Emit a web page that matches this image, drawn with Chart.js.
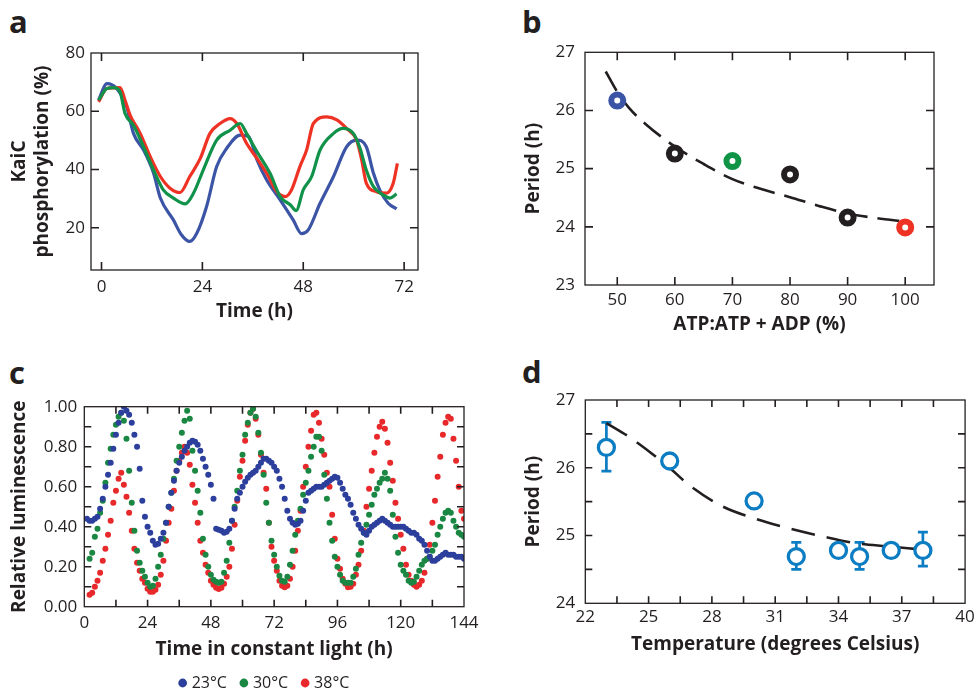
<!DOCTYPE html>
<html><head><meta charset="utf-8">
<script src="https://cdn.jsdelivr.net/npm/chart.js@4.4.1/dist/chart.umd.min.js"></script>
<style>
html,body{margin:0;padding:0;background:#fff;width:978px;height:689px;overflow:hidden;position:relative;}
canvas{position:absolute;}
.lbl{position:absolute;font-family:'Open Sans',sans-serif;font-weight:700;font-size:31px;line-height:30px;color:#231f20;}
</style></head><body>
<div class="lbl" style="left:9px;top:6px">a</div>
<div class="lbl" style="left:522px;top:6px">b</div>
<div class="lbl" style="left:9px;top:357px">c</div>
<div class="lbl" style="left:522px;top:356px">d</div>
<canvas id="ca" width="489" height="340" style="left:0;top:0"></canvas>
<canvas id="cb" width="489" height="340" style="left:489px;top:0"></canvas>
<canvas id="cc" width="489" height="341" style="left:0;top:360px"></canvas>
<canvas id="cd" width="489" height="329" style="left:489px;top:360px"></canvas>
<script>
// ---------- Panel a: KaiC phosphorylation ----------
const aXTicks = [0, 24, 48, 72];
const aYTicks = [20, 40, 60, 80];
const aBlueT = [-0.7,1.3,3.6,6,7.6,10,12.4,14,17.1,19,21,22.7,25,27.4,29.8,33,35,37,39.3,42.5,45.6,47.6,49.2,52,55.2,58.3,60.7,63,64.7,66.2,68.2,70.2];
const aBlueV = [63.8,69.5,67.8,61.5,52.4,46.7,38.7,30.2,22.7,17.6,15.3,18.2,27.3,41,47.3,51.8,51.3,43.3,36.4,29.6,22.7,18,19.3,28.4,37.6,47.8,50.1,47.8,38.7,33,28.4,26.5];
const aRedT = [-0.7,1.3,4.4,5.6,6.8,9.2,11.6,14,16.3,18.7,21,23.5,25.8,28.2,30.6,32.2,34.5,37,39.3,41.7,43.7,45.2,47.2,48.8,50.4,53.6,56,58.3,60.7,61.9,63,65.4,67.8,69.4,70.4];
const aRedV = [63.2,67.8,68.1,63.8,58.7,52.4,44.4,37.6,33.6,32.1,37.6,43.8,52.4,55.8,57.5,55.8,49,43.8,38.7,32.4,30.7,33,41,46.7,55.8,58.1,57,54.1,50.1,43.3,35.3,32.4,31.9,35.3,42.1];
const aGreenT = [-0.7,1.3,2.9,4.4,5.6,7.6,10,12.4,14.7,17.1,19.9,21.9,24.2,27.4,30.6,33,34.5,37,40.1,42.5,44.9,46.3,48,50,52,55.2,57.5,59.9,61.5,63,64.7,67,68.6,70.2];
const aGreenV = [63.8,67.8,68.1,66.7,59.2,55.2,47.8,39.8,33,30.2,28.2,31.9,39.8,50.1,53.5,55.8,52.4,46.1,38.7,30.7,27.9,25.9,33,37.6,46.7,52.4,54.1,52.4,47.3,39.8,34.1,31.3,30.2,31.6];

// ---------- Panel b: period vs ATP ----------
const bXTicks = [50, 60, 70, 80, 90, 100];
const bYTicks = [23, 24, 25, 26, 27];
const bATP = [50, 60, 70, 80, 90, 100];
const bPeriod = [26.17, 25.26, 25.13, 24.9, 24.16, 23.99];
const bColors = ['#3b54a5', '#231f20', '#0f9447', '#231f20', '#231f20', '#ee3224'];
const bFitX = [48, 50, 52, 55, 60, 65, 70, 75, 80, 85, 90, 95, 100];
const bFitY = [26.67, 26.32, 26.05, 25.76, 25.38, 25.08, 24.82, 24.65, 24.51, 24.36, 24.23, 24.15, 24.09];

// ---------- Panel c: luminescence ----------
const cXTicks = [0,12,24,36,48,60,72,84,96,108,120,132,144];
const cYTicks = [0,0.1,0.2,0.3,0.4,0.5,0.6,0.7,0.8,0.9,1.0];
const cLabels = ['23°C', '30°C', '38°C'];
const cBlueStart = 1, cGreenStart = 2, cRedStart = 2;
const cBlue = [0.44,0.43,0.43,0.44,0.45,0.49,0.54,0.60,0.66,0.72,
 0.79,0.86,0.92,0.97,1.00,0.98,0.96,0.92,0.86,0.80,
 0.69,0.53,0.45,0.40,0.37,0.33,0.31,0.315,0.34,0.37,
 0.42,0.50,0.57,0.63,0.68,0.72,0.75,0.78,0.80,0.82,
 0.83,0.825,0.81,0.78,0.74,0.70,0.66,0.61,0.54,0.39,
 0.385,0.38,0.37,0.375,0.39,0.43,0.49,0.54,0.57,0.60,
 0.625,0.645,0.66,0.67,0.68,0.70,0.72,0.74,0.74,0.73,
 0.72,0.70,0.68,0.64,0.60,0.54,0.48,0.44,0.42,0.41,
 0.415,0.43,0.48,0.53,0.57,0.58,0.59,0.60,0.60,0.60,
 0.61,0.62,0.63,0.64,0.65,0.645,0.62,0.59,0.56,0.54,
 0.51,0.47,0.44,0.41,0.39,0.37,0.36,0.38,0.40,0.41,
 0.42,0.43,0.44,0.43,0.42,0.41,0.40,0.40,0.40,0.40,
 0.40,0.39,0.38,0.37,0.37,0.36,0.34,0.33,0.31,0.28,
 0.25,0.23,0.23,0.24,0.25,0.26,0.27,0.26,0.26,0.26,
 0.25,0.25,0.25,0.24];
const cGreen = [0.24,0.27,0.35,0.39,0.47,0.53,0.62,0.72,0.79,0.86,
 0.91,0.95,0.97,0.93,0.84,0.68,0.52,0.38,0.28,0.22,
 0.18,0.15,0.12,0.10,0.105,0.14,0.20,0.26,0.34,0.42,
 0.50,0.57,0.64,0.73,0.80,0.87,0.93,0.98,0.94,0.78,
 0.68,0.58,0.47,0.34,0.26,0.20,0.16,0.135,0.125,0.12,
 0.125,0.17,0.23,0.32,0.43,0.50,0.58,0.68,0.76,0.86,
 0.92,0.97,0.99,0.95,0.87,0.77,0.66,0.52,0.42,0.33,
 0.26,0.20,0.155,0.13,0.125,0.15,0.21,0.28,0.36,0.43,
 0.49,0.56,0.62,0.68,0.75,0.80,0.85,0.85,0.78,0.66,
 0.54,0.42,0.33,0.25,0.20,0.16,0.13,0.12,0.12,0.12,
 0.15,0.19,0.26,0.32,0.37,0.41,0.46,0.51,0.56,0.59,
 0.62,0.64,0.67,0.64,0.58,0.46,0.35,0.27,0.21,0.18,
 0.16,0.13,0.12,0.125,0.15,0.18,0.21,0.23,0.24,0.25,
 0.28,0.31,0.36,0.40,0.44,0.47,0.48,0.47,0.43,0.40,
 0.37,0.36,0.35];
const cRed = [0.06,0.07,0.10,0.13,0.17,0.23,0.29,0.36,0.43,0.52,
 0.58,0.64,0.67,0.61,0.55,0.47,0.38,0.29,0.22,0.18,
 0.14,0.12,0.09,0.075,0.075,0.085,0.11,0.16,0.23,0.33,
 0.42,0.49,0.58,0.68,0.73,0.77,0.80,0.77,0.71,0.61,
 0.52,0.42,0.33,0.27,0.21,0.17,0.13,0.11,0.095,0.088,
 0.095,0.115,0.15,0.20,0.29,0.41,0.53,0.65,0.73,0.83,
 0.91,0.97,0.99,0.94,0.86,0.76,0.67,0.59,0.42,0.30,
 0.23,0.18,0.13,0.105,0.097,0.105,0.14,0.20,0.28,0.38,
 0.48,0.60,0.70,0.80,0.88,0.96,0.97,0.92,0.84,0.76,
 0.67,0.60,0.46,0.34,0.24,0.19,0.14,0.115,0.097,0.10,
 0.115,0.16,0.21,0.28,0.38,0.50,0.59,0.68,0.77,0.85,
 0.90,0.925,0.89,0.82,0.72,0.63,0.52,0.44,0.36,0.29,
 0.21,0.16,0.13,0.11,0.10,0.11,0.13,0.17,0.24,0.31,
 0.42,0.53,0.65,0.75,0.86,0.92,0.95,0.94,0.84,0.73,
 0.60,0.48,0.44];

// ---------- Panel d: period vs temperature ----------
const dXTicks = [22,23.5,25,26.5,28,29.5,31,32.5,34,35.5,37,38.5,40];
const dYTicks = [24,24.5,25,25.5,26,26.5,27];
const dTemp = [23, 26, 30, 32, 34, 35, 36.5, 38];
const dPeriod = [26.3, 26.1, 25.51, 24.69, 24.78, 24.69, 24.78, 24.78];
const dErrLo = [25.95, null, null, 24.5, null, 24.5, null, 24.55];
const dErrHi = [26.67, null, null, 24.9, null, 24.9, null, 25.05];
const dFitX = [23, 24.2, 25.95, 26.9, 28.5, 30.05, 31.6, 33.2, 34.75, 36.35, 37.76];
const dFitY = [26.66, 26.43, 26.01, 25.75, 25.43, 25.25, 25.11, 24.99, 24.89, 24.84, 24.8];

// ---------- helpers ----------
const TXT = '#231f20';
Chart.defaults.font.family = "'Open Sans', sans-serif";
Chart.defaults.color = TXT;
const pts = (xs, ys) => xs.map((x, i) => ({x: x, y: ys[i]}));
const series = (start, vals) => vals.map((v, i) => ({x: start + i, y: v}));
const fixTicks = arr => (s => { s.ticks = arr.map(v => ({value: v})); });

const frameTicks = {
  id: 'frameTicks',
  afterDatasetsDraw(chart, args, opts) {
    const {ctx, chartArea: ca, scales} = chart;
    const L = opts.len || 8;
    ctx.save();
    ctx.strokeStyle = TXT;
    ctx.lineWidth = opts.tickWidth || 1.6;
    ctx.beginPath();
    scales.x.ticks.forEach(t => {
      const p = scales.x.getPixelForValue(t.value);
      if (p > ca.left + 1.5 && p < ca.right - 1.5) {
        ctx.moveTo(p, ca.bottom); ctx.lineTo(p, ca.bottom - L);
        ctx.moveTo(p, ca.top); ctx.lineTo(p, ca.top + L);
      }
    });
    scales.y.ticks.forEach(t => {
      const p = scales.y.getPixelForValue(t.value);
      if (p > ca.top + 1.5 && p < ca.bottom - 1.5) {
        ctx.moveTo(ca.left, p); ctx.lineTo(ca.left + L, p);
        ctx.moveTo(ca.right, p); ctx.lineTo(ca.right - L, p);
      }
    });
    ctx.stroke();
    ctx.lineWidth = opts.borderWidth || 1.3;
    ctx.strokeRect(ca.left, ca.top, ca.right - ca.left, ca.bottom - ca.top);
    ctx.restore();
  }
};

const errorBars = {
  id: 'errorBars',
  beforeDatasetsDraw(chart, args, opts) {
    if (!opts.lo) return;
    const {ctx, scales} = chart;
    ctx.save();
    ctx.strokeStyle = opts.color;
    ctx.lineWidth = opts.width || 2.7;
    ctx.beginPath();
    opts.xs.forEach((xv, i) => {
      if (opts.lo[i] == null) return;
      const px = scales.x.getPixelForValue(xv);
      const pl = scales.y.getPixelForValue(opts.lo[i]);
      const ph = scales.y.getPixelForValue(opts.hi[i]);
      const c = opts.cap || 5;
      ctx.moveTo(px, pl); ctx.lineTo(px, ph);
      ctx.moveTo(px - c, pl); ctx.lineTo(px + c, pl);
      ctx.moveTo(px - c, ph); ctx.lineTo(px + c, ph);
    });
    ctx.stroke();
    ctx.restore();
  }
};

// moves the legend box so its row is centred like the original figure
const legendShift = {
  id: 'legendShift',
  afterLayout(chart, args, opts) {
    if (chart.legend && opts.left != null) chart.legend.left = opts.left;
  }
};

const tickFont = {size: 17};
const titleFont = {size: 19, weight: 'bold', lineHeight: 1.2};
function axis(min, max, tickArr, opts) {
  return {
    type: 'linear', min: min, max: max,
    afterBuildTicks: fixTicks(tickArr),
    afterFit: opts.fit,
    grid: {display: false, drawTicks: false},
    border: {display: false},
    ticks: {padding: opts.pad, font: tickFont, color: TXT, autoSkip: false, maxRotation: 0,
            callback: opts.cb || (v => String(v))},
    title: {display: true, text: opts.title, font: titleFont, color: TXT, padding: opts.tpad}
  };
}
const base = {responsive: false, animation: false, events: []};

// ---------- Chart a ----------
new Chart(document.getElementById('ca'), {
  type: 'line',
  data: {datasets: [
    {data: pts(aGreenT, aGreenV), borderColor: '#11924a'},
    {data: pts(aRedT, aRedV), borderColor: '#ee3224'},
    {data: pts(aBlueT, aBlueV), borderColor: '#3b54a5'}
  ]},
  options: Object.assign({}, base, {
    layout: {padding: {left: 0, top: 53, right: 71, bottom: 0}},
    elements: {point: {radius: 0}, line: {borderWidth: 3.2, cubicInterpolationMode: 'monotone', fill: false}},
    plugins: {legend: {display: false}, tooltip: {enabled: false}, frameTicks: {len: 8}},
    scales: {
      x: axis(-2.5, 75.3, aXTicks, {fit: s => { s.height = 70; }, pad: 6.5, title: 'Time (h)', tpad: {top: 0, bottom: 17}}),
      y: axis(5.5, 80, aYTicks, {fit: s => { s.width = 91; }, pad: 6, title: ['KaiC', 'phosphorylation (%)'], tpad: {top: 8.6, bottom: 0}})
    }
  }),
  plugins: [frameTicks]
});

// ---------- Chart b ----------
new Chart(document.getElementById('cb'), {
  type: 'scatter',
  data: {datasets: [
    {data: pts(bATP, bPeriod), pointRadius: 6, pointBorderWidth: 6, pointBorderColor: bColors,
     pointBackgroundColor: '#ffffff', showLine: false},
    {data: pts(bFitX, bFitY), showLine: true, pointRadius: 0, borderColor: '#231f20', borderWidth: 2.6,
     borderDash: [22, 10], tension: 0.4, cubicInterpolationMode: 'monotone'}
  ]},
  options: Object.assign({}, base, {
    layout: {padding: {left: 0, top: 52.3, right: 44, bottom: 0}},
    plugins: {legend: {display: false}, tooltip: {enabled: false}, frameTicks: {len: 8}},
    scales: {
      x: axis(44.4, 105, bXTicks, {fit: s => { s.height = 55; }, pad: 5, title: 'ATP:ATP + ADP (%)', tpad: {top: 0, bottom: 3.6}}),
      y: axis(23, 27, bYTicks, {fit: s => { s.width = 96; }, pad: 10, title: 'Period (h)', tpad: {top: 33.6, bottom: 0}})
    }
  }),
  plugins: [frameTicks]
});

// ---------- Chart c ----------
new Chart(document.getElementById('cc'), {
  type: 'scatter',
  data: {datasets: [
    {label: cLabels[0], data: series(cBlueStart, cBlue), backgroundColor: '#2c3f9c', borderColor: '#2c3f9c'},
    {label: cLabels[1], data: series(cGreenStart, cGreen), backgroundColor: '#1a8743', borderColor: '#1a8743'},
    {label: cLabels[2], data: series(cRedStart, cRed), backgroundColor: '#e8292b', borderColor: '#e8292b'}
  ]},
  options: Object.assign({}, base, {
    layout: {padding: {left: 0, top: 46.7, right: 25, bottom: 0}},
    elements: {point: {radius: 3, borderWidth: 0, pointStyle: 'circle'}},
    plugins: {
      tooltip: {enabled: false}, frameTicks: {len: 7}, legendShift: {left: 67},
      legend: {display: true, position: 'bottom',
        labels: {usePointStyle: true, pointStyle: 'circle', boxWidth: 2, boxHeight: 6.2, padding: 16,
                 font: {size: 16}, color: TXT, sort: (a, b) => a.datasetIndex - b.datasetIndex}}
    },
    scales: {
      x: axis(0, 144, cXTicks, {fit: s => { s.height = 52.3; }, pad: 6.4, title: 'Time in constant light (h)',
            tpad: {top: 0, bottom: -2.4}, cb: v => (v % 24 === 0 ? String(v) : '')}),
      y: axis(0, 1, cYTicks, {fit: s => { s.width = 84.3; }, pad: 7, title: 'Relative luminescence',
            tpad: {top: 8.6, bottom: 0},
            cb: v => (Math.round(v * 10) % 2 === 0 ? v.toFixed(2) : '')})
    }
  }),
  plugins: [frameTicks, legendShift]
});

// ---------- Chart d ----------
new Chart(document.getElementById('cd'), {
  type: 'scatter',
  data: {datasets: [
    {data: pts(dTemp, dPeriod), pointRadius: 8, pointBorderWidth: 3.3, pointBorderColor: '#0c7dc2',
     pointBackgroundColor: '#ffffff', showLine: false},
    {data: pts(dFitX, dFitY), showLine: true, pointRadius: 0, borderColor: '#231f20', borderWidth: 2.6,
     borderDash: [24, 12], tension: 0.4, cubicInterpolationMode: 'monotone'}
  ]},
  options: Object.assign({}, base, {
    layout: {padding: {left: 0, top: 40, right: 11.7, bottom: 0}},
    plugins: {legend: {display: false}, tooltip: {enabled: false}, frameTicks: {len: 7},
      errorBars: {xs: dTemp, lo: dErrLo, hi: dErrHi, color: '#0c7dc2', width: 2.7, cap: 5}},
    scales: {
      x: axis(22, 40, dXTicks, {fit: s => { s.height = 85.7; }, pad: 3.2, title: 'Temperature (degrees Celsius)',
            tpad: {top: 0, bottom: 32.6},
            cb: v => (Math.abs(((v - 22) / 3) - Math.round((v - 22) / 3)) < 1e-6 ? String(v) : '')}),
      y: axis(24, 27, dYTicks, {fit: s => { s.width = 96.3; }, pad: 10, title: 'Period (h)', tpad: {top: 33.6, bottom: 0},
            cb: v => (Number.isInteger(v) ? String(v) : '')})
    }
  }),
  plugins: [frameTicks, errorBars]
});
</script>
</body></html>
